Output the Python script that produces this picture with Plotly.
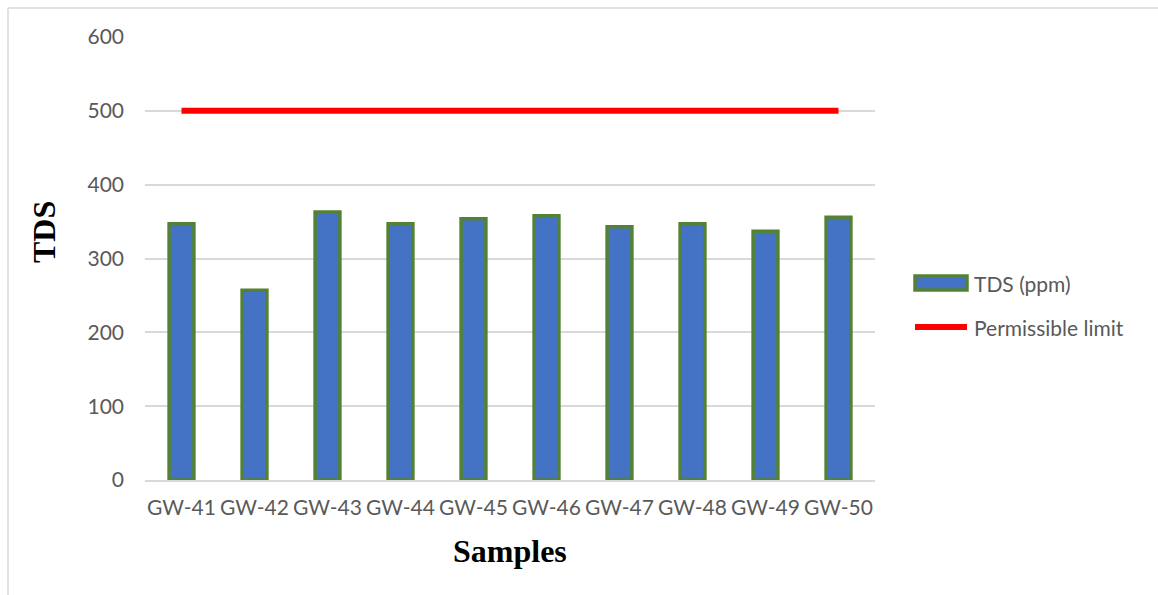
import plotly.graph_objects as go

samples = ["GW-41", "GW-42", "GW-43", "GW-44", "GW-45", "GW-46", "GW-47", "GW-48", "GW-49", "GW-50"]
tds_ppm = [347, 257, 363, 347, 354, 358, 343, 347, 337, 356]
permissible_limit = [500] * len(samples)
y_ticks = [0, 100, 200, 300, 400, 500, 600]

W, H = 1158, 595
L, R, T, B = 145, 283, 37, 115
pw, ph = W - L - R, H - T - B

def px(x):
    return (x - L) / pw

def py(y):
    return (H - B - y) / ph

fig = go.Figure()
fig.add_trace(go.Bar(
    x=samples, y=tds_ppm, name="TDS (ppm)",
    marker=dict(color="#4472C4", line=dict(color="#548235", width=3.5)),
    width=0.34, showlegend=False,
))
fig.add_trace(go.Scatter(
    x=samples, y=permissible_limit, name="Permissible limit", mode="lines",
    line=dict(color="#FF0000", width=6), showlegend=False,
))

tick_font = dict(family="Lato", size=21, color="#595959")
title_font = dict(family="Liberation Serif", size=32, color="#000000")

fig.update_layout(
    width=W, height=H,
    margin=dict(l=L, r=R, t=T, b=B),
    paper_bgcolor="white", plot_bgcolor="white",
    xaxis=dict(
        type="category", tickfont=tick_font, tickangle=0,
        showgrid=False, showline=True, linecolor="#D9D9D9", linewidth=1.5,
        ticks="", ticklabelstandoff=8,
    ),
    yaxis=dict(
        range=[0, 600], tickvals=y_ticks, tickfont=tick_font,
        showgrid=True, gridcolor="#D9D9D9", gridwidth=1.5,
        zeroline=False, showline=False, ticks="", ticklabelstandoff=20,
    ),
    showlegend=False,
)

# axis titles
fig.add_annotation(text="<b>TDS</b>", x=px(44), y=py(232), xref="paper", yref="paper",
                   showarrow=False, textangle=-90, font=title_font,
                   xanchor="center", yanchor="middle")
fig.add_annotation(text="<b>Samples</b>", x=px(510), y=py(551), xref="paper", yref="paper",
                   showarrow=False, font=title_font, xanchor="center", yanchor="middle")

# legend (drawn manually)
fig.add_shape(type="rect", xref="paper", yref="paper",
              x0=px(915), x1=px(967), y0=py(276), y1=py(290),
              fillcolor="#4472C4", line=dict(color="#548235", width=3.5))
fig.add_annotation(text="TDS (ppm)", x=px(972), y=py(283), xref="paper", yref="paper",
                   showarrow=False, font=tick_font, xanchor="left", yanchor="middle")
fig.add_shape(type="line", xref="paper", yref="paper",
              x0=px(915), x1=px(967), y0=py(327), y1=py(327),
              line=dict(color="#FF0000", width=6))
fig.add_annotation(text="Permissible limit", x=px(972), y=py(327), xref="paper", yref="paper",
                   showarrow=False, font=tick_font, xanchor="left", yanchor="middle")

# chart border (top and left visible)
fig.add_shape(type="line", xref="paper", yref="paper",
              x0=px(8), x1=px(1158), y0=py(8), y1=py(8),
              line=dict(color="#D9D9D9", width=1.5))
fig.add_shape(type="line", xref="paper", yref="paper",
              x0=px(8), x1=px(8), y0=py(8), y1=py(595),
              line=dict(color="#D9D9D9", width=1.5))

fig.write_html("out.html", config={"displayModeBar": False},
               post_script="document.body.style.margin='0px';document.body.style.overflow='hidden';")
